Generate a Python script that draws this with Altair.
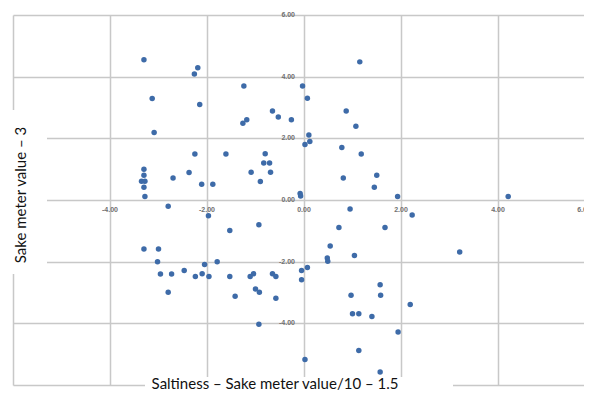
import altair as alt
import pandas as pd

# Data
x_vals = [-3.30, -2.19, -2.26, -3.13, -2.15, -3.09, -2.25, -1.61, -3.30, -3.30,
          -3.35, -3.28, -3.30, -2.70, -2.37, -2.11, -1.88, -3.28, -1.24, -0.03,
          0.07, -0.65, -0.53, -0.26, -1.26, -1.18, 0.10, 0.12, 0.02, -0.80,
          -0.83, -0.71, -1.09, -0.69, -0.90, -0.08, -0.07,
          1.15, 0.87, 1.07, 0.78, 1.18, 0.81, 1.50, 1.45, 1.93, 4.21,
          -2.80, -1.97, -1.53, -3.30, -3.00, -3.02, -2.96, -2.73, -2.47, -2.24,
          -2.10, -2.05, -1.96, -1.79, -1.53, -2.80, -0.93, -1.42, -1.11, -1.04,
          -1.00, -0.92, -0.65, -0.58, -0.58, -0.05, 0.07, -0.05, -0.93, 0.02,
          0.95, 2.23, 0.72, 1.67, 0.54, 0.48, 0.49, 1.04, 1.57, 0.97,
          1.58, 2.19, 1.00, 1.13, 1.40, 1.94, 1.13, 1.57, 3.21]
y_vals = [4.55, 4.29, 4.09, 3.29, 3.10, 2.19, 1.49, 1.49, 1.00, 0.80,
          0.61, 0.61, 0.41, 0.71, 0.89, 0.51, 0.51, 0.11, 3.70, 3.70,
          3.30, 2.89, 2.69, 2.60, 2.49, 2.60, 2.11, 1.90, 1.80, 1.50,
          1.20, 1.20, 0.90, 0.90, 0.60, 0.21, 0.13,
          4.48, 2.89, 2.39, 1.70, 1.49, 0.71, 0.80, 0.41, 0.11, 0.11,
          -0.20, -0.51, -0.99, -1.59, -1.59, -2.00, -2.40, -2.40, -2.29, -2.48,
          -2.39, -2.09, -2.48, -2.00, -2.48, -2.99, -0.80, -3.12, -2.48, -2.39,
          -2.89, -2.99, -2.39, -2.48, -3.19, -2.29, -2.19, -2.59, -4.03, -5.17,
          -0.29, -0.49, -0.89, -0.89, -1.49, -1.88, -1.99, -1.80, -2.75, -3.09,
          -3.09, -3.39, -3.69, -3.69, -3.78, -4.28, -4.88, -5.58, -1.69]

grid_values = [-6, -4, -2, 0, 2, 4, 6]
x_tick_values = [-4, -2, 0, 2, 4]
y_tick_values = [-4, -2, 0, 2, 4, 6]
edge_tick_value = [6]
x_title = "Saltiness – Sake meter value/10 – 1.5"
y_title = "Sake meter value – 3"

df = pd.DataFrame({"x": x_vals, "y": y_vals})
one = pd.DataFrame({"k": [0]})
xt = pd.DataFrame({"v": x_tick_values, "z": [0] * len(x_tick_values),
                   "label": [f"{v:.2f}" for v in x_tick_values]})
et = pd.DataFrame({"v": edge_tick_value, "z": [0],
                   "label": [f"{v:.2f}" for v in edge_tick_value]})
yt = pd.DataFrame({"v": y_tick_values, "z": [0] * len(y_tick_values),
                   "label": [f"{v:.2f}" for v in y_tick_values]})
xtd = pd.DataFrame({"t": [x_title]})
ytd = pd.DataFrame({"t": [y_title]})

xscale = alt.Scale(domain=[-6, 5.773], nice=False, zero=False)
yscale = alt.Scale(domain=[-6, 6], nice=False, zero=False)
grid_axis = dict(values=grid_values, grid=True, gridColor="#c8c8c8", gridWidth=1.5,
                 labels=False, ticks=False, domain=False, title=None)

points = alt.Chart(df).mark_circle(size=30, opacity=1, color="#3E6BA8").encode(
    x=alt.X("x:Q", scale=xscale, axis=alt.Axis(**grid_axis)),
    y=alt.Y("y:Q", scale=yscale, axis=alt.Axis(**grid_axis)),
)

ybox = alt.Chart(one).mark_rect(color="white").encode(
    x=alt.value(-5), x2=alt.value(34), y=alt.value(95), y2=alt.value(259))
xbox = alt.Chart(one).mark_rect(color="white").encode(
    x=alt.value(132), x2=alt.value(440), y=alt.value(362), y2=alt.value(376))

label_style = dict(font="Liberation Sans", fontSize=7, fontWeight="bold", color="#707070")
xlabels = alt.Chart(xt).mark_text(align="center", baseline="middle", dy=10, **label_style).encode(
    x=alt.X("v:Q", scale=xscale), y=alt.Y("z:Q", scale=yscale), text="label:N")
elabel = alt.Chart(et).mark_text(align="center", baseline="middle", dx=-11, dy=10, **label_style).encode(
    x=alt.X("v:Q", scale=xscale), y=alt.Y("z:Q", scale=yscale), text="label:N")
ylabels = alt.Chart(yt).mark_text(align="right", baseline="middle", dx=-9, **label_style).encode(
    x=alt.X("z:Q", scale=xscale), y=alt.Y("v:Q", scale=yscale), text="label:N")

title_style = dict(font="Lato", fontSize=15, fontWeight="normal", color="#111111")
xtitle = alt.Chart(xtd).mark_text(align="center", baseline="alphabetic", **title_style).encode(
    x=alt.value(262), y=alt.value(374), text="t:N")
ytitle = alt.Chart(ytd).mark_text(align="center", baseline="middle", angle=270, **title_style).encode(
    x=alt.value(8), y=alt.value(180), text="t:N")

chart = alt.layer(points, ybox, xbox, xlabels, elabel, ylabels, xtitle, ytitle).properties(
    width=571, height=370,
    padding={"left": 5, "top": 7, "right": 0, "bottom": 6},
    autosize="none",
).configure_view(stroke=None)

chart.save("out.html", embed_options={"renderer": "svg", "actions": False})
